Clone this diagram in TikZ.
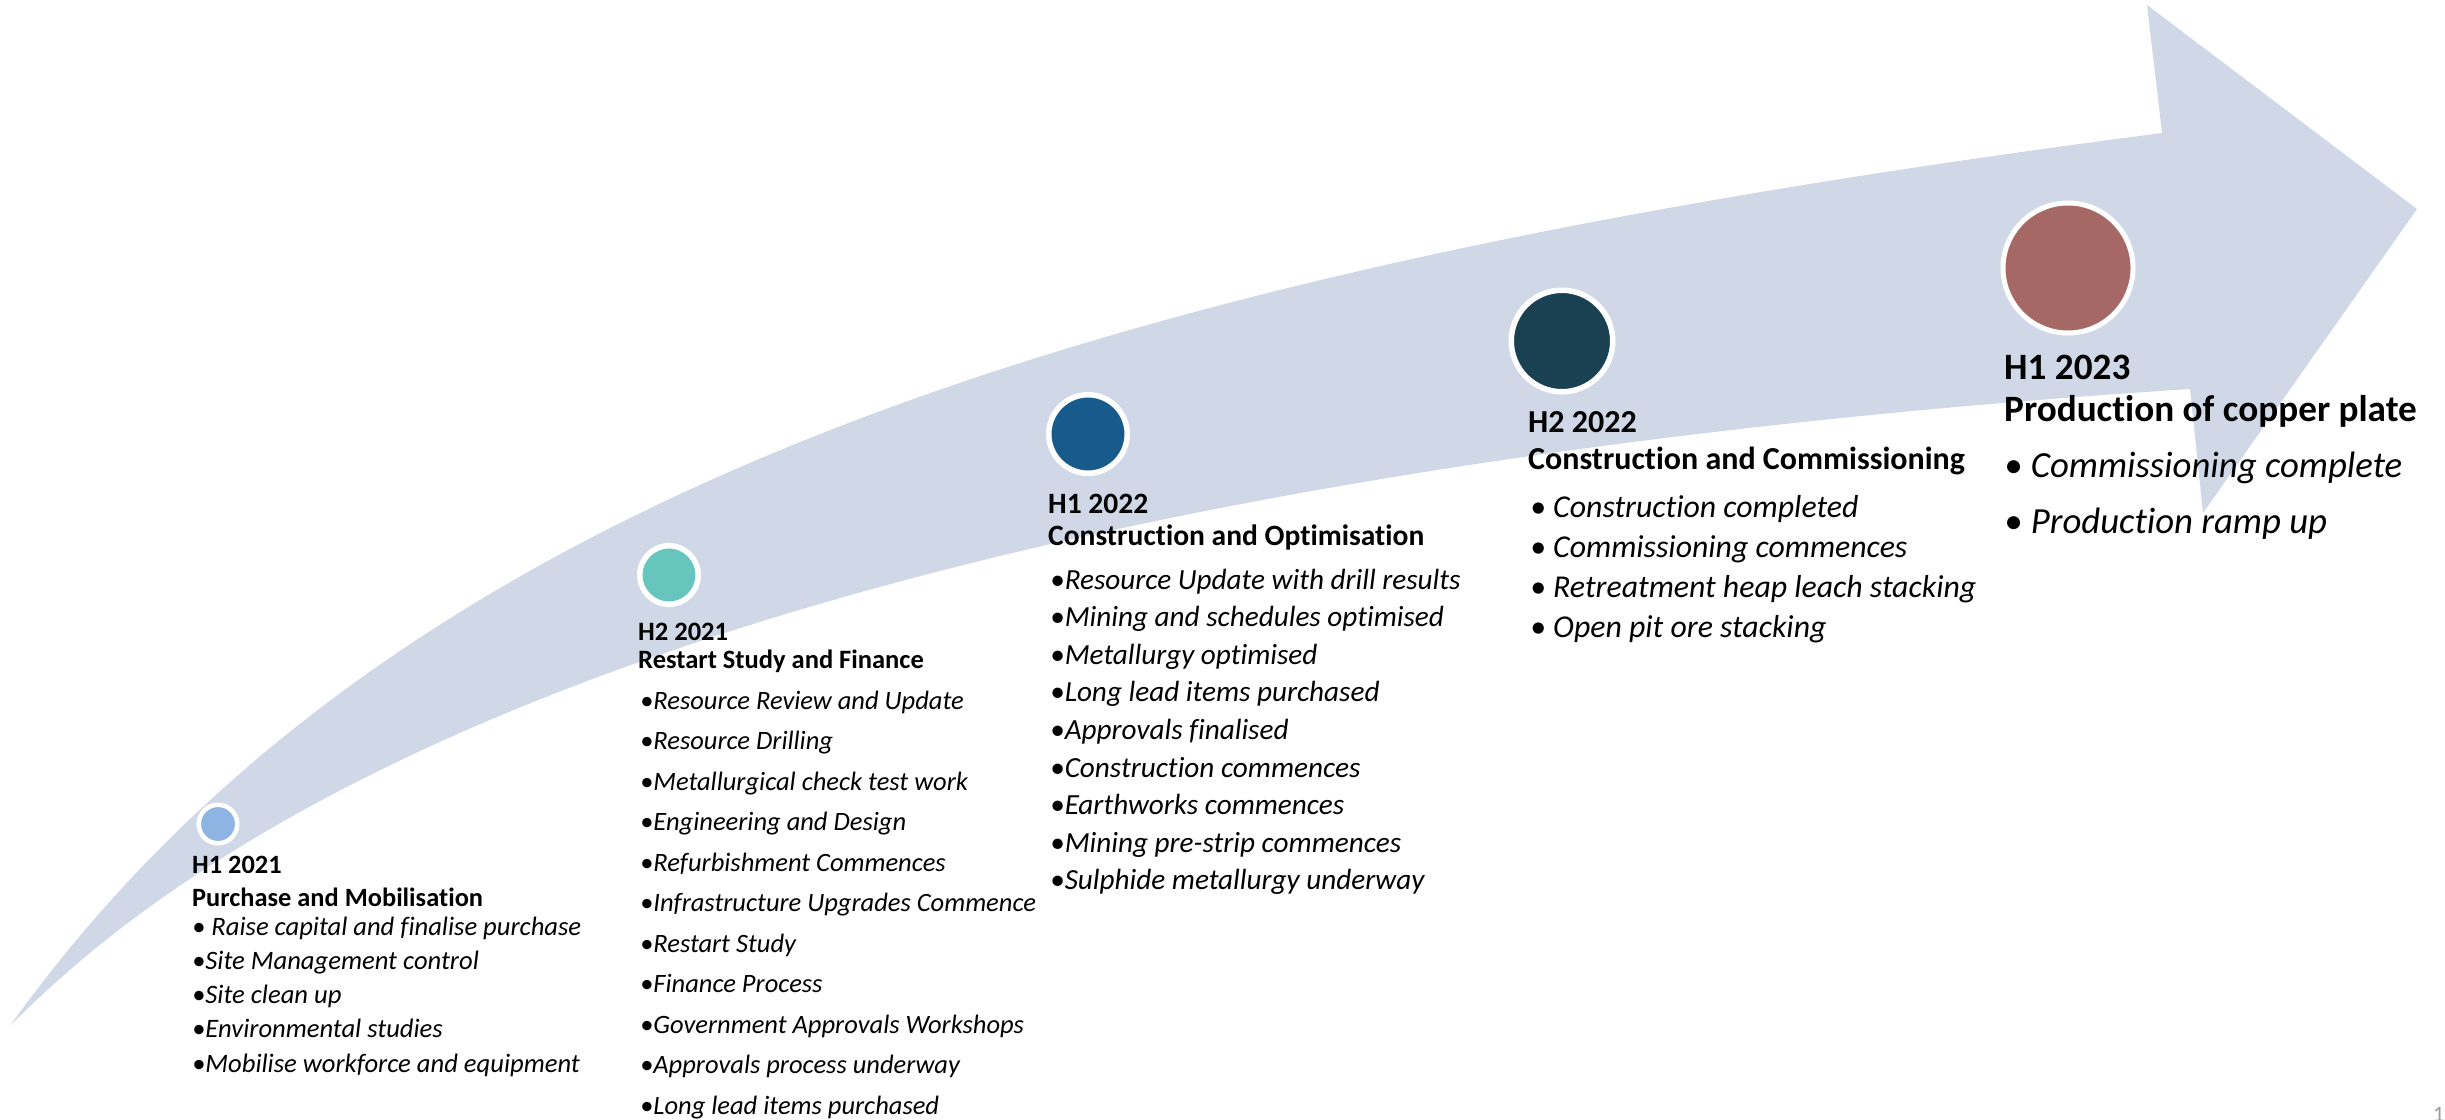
\documentclass[tikz,border=0pt]{standalone}
\usepackage{fontspec}
\setmainfont{Carlito}[Ligatures=NoCommon]
\definecolor{band}{HTML}{D0D8E8}
\definecolor{cA}{HTML}{8EB4E3}
\definecolor{cB}{HTML}{66C6BE}
\definecolor{cC}{HTML}{175A8C}
\definecolor{cD}{HTML}{1A4152}
\definecolor{cE}{HTML}{A66864}
\definecolor{pgnum}{HTML}{9A9A9A}
\begin{document}
\begin{tikzpicture}[x=1bp,y=-1bp,
  hdr/.style={anchor=base west, inner sep=0pt, font=\fontsize{#1}{#1}\selectfont\bfseries},
  itm/.style={anchor=base west, inner sep=0pt, font=\fontsize{#1}{#1}\selectfont\itshape},
  dotnode/.style={circle, draw=white, inner sep=0pt}]
\useasboundingbox (0,0) rectangle (2445,1119);
\clip (0,0) rectangle (2445,1119);
% curved arrow band
\coordinate (tail) at (10,1026);
\coordinate (hu) at (2162,133);
\coordinate (htop) at (2147,5);
\coordinate (tip) at (2417,209);
\coordinate (hbot) at (2203,513);
\coordinate (hl) at (2190,389);
\fill[band] (tail) .. controls (410,466) and (1162,263) .. (hu)
  -- (htop) -- (tip) -- (hbot) -- (hl)
  .. controls (1390,441) and (430,598) .. (tail) -- cycle;
% milestone dots
\node[dotnode, fill=cA, line width=4.5bp, minimum size=38.5bp] (d1) at (218,824) {};
\node[dotnode, fill=cB, line width=5.5bp, minimum size=58.5bp] (d2) at (669,575) {};
\node[dotnode, fill=cC, line width=5.5bp, minimum size=78.5bp] (d3) at (1088,434) {};
\node[dotnode, fill=cD, line width=5.5bp, minimum size=101.5bp] (d4) at (1562,341) {};
\node[dotnode, fill=cE, line width=5bp, minimum size=130bp] (d5) at (2068,268) {};
% group 1
\node[hdr=26.4bp] (g1h1) at (192,873) {H1 2021};
\node[hdr=26.4bp] (g1h2) at (192,906) {Purchase and Mobilisation};
\node[itm=26.6bp] (g1b0) at (192,935) {• Raise capital and finalise purchase};
\foreach \t [count=\k] in {{Site Management control},{Site clean up},{Environmental studies},{Mobilise workforce and equipment}}
  \node[itm=26.6bp] (g1b\k) at (192,{935+34.3*\k}) {•\t};
% group 2
\node[hdr=26.5bp] (g2h1) at (638,640) {H2 2021};
\node[hdr=26.5bp] (g2h2) at (638,668) {Restart Study and Finance};
\foreach \t [count=\k from 0] in {{Resource Review and Update},{Resource Drilling},{Metallurgical check test work},{Engineering and Design},{Refurbishment Commences},{Infrastructure Upgrades Commence},{Restart Study},{Finance Process},{Government Approvals Workshops},{Approvals process underway},{Long lead items purchased}}
  \node[itm=26.5bp] (g2b\k) at (640,{709+40.5*\k}) {•\t};
% group 3
\node[hdr=29.5bp] (g3h1) at (1048,513) {H1 2022};
\node[hdr=29.5bp] (g3h2) at (1048,545) {Construction and Optimisation};
\foreach \t [count=\k from 0] in {{Resource Update with drill results},{Mining and schedules optimised},{Metallurgy optimised},{Long lead items purchased},{Approvals finalised},{Construction commences},{Earthworks commences},{Mining pre-strip commences},{Sulphide metallurgy underway}}
  \node[itm=29.2bp] (g3b\k) at (1050,{589+37.6*\k}) {•\t};
% group 4
\node[hdr=32bp] (g4h1) at (1528,432) {H2 2022};
\node[hdr=32bp] (g4h2) at (1528,469) {Construction and Commissioning};
\foreach \t [count=\k from 0] in {{Construction completed},{Commissioning commences},{Retreatment heap leach stacking},{Open pit ore stacking}}
  \node[itm=31.8bp] (g4b\k) at (1530,{517+40.3*\k}) {• \t};
% group 5
\node[hdr=37.2bp] (g5h1) at (2004,379) {H1 2023};
\node[hdr=37.2bp] (g5h2) at (2004,421) {Production of copper plate};
\foreach \t [count=\k from 0] in {{Commissioning complete},{Production ramp up}}
  \node[itm=36.8bp] (g5b\k) at (2004,{477+56*\k}) {• \t};
% page number
\node[anchor=north west, inner sep=0pt, text=pgnum, font=\fontsize{22bp}{22bp}\selectfont] (pg) at (2433,1107) {1};
\end{tikzpicture}
\end{document}
